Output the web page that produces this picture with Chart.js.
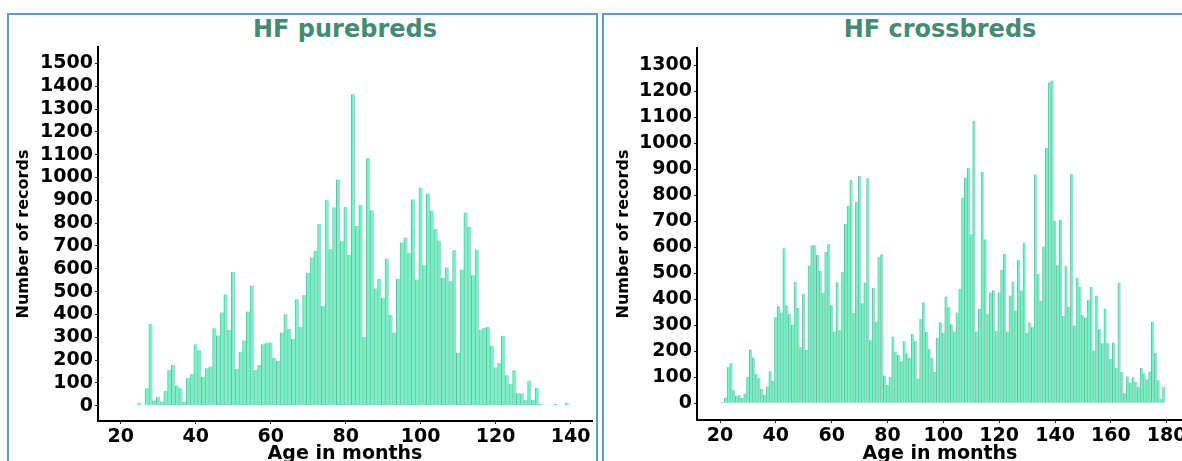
<!DOCTYPE html>
<html>
<head>
<meta charset="utf-8">
<script src="https://cdn.jsdelivr.net/npm/chart.js@4.4.1/dist/chart.umd.min.js"></script>
<style>
  html, body { margin: 0; padding: 0; background: #fff; }
  body { width: 1182px; height: 461px; overflow: hidden; position: relative; }
  .box { position: absolute; top: 13px; height: 470px; border: 2px solid #5b9bd5; box-sizing: border-box; }
  .title { position: absolute; top: 17px; width: 400px; text-align: center;
           font: bold 24px "DejaVu Sans", sans-serif; line-height: 24px; color: #458b74; }
  canvas { position: absolute; top: 0; }
</style>
</head>
<body>
<div class="box" style="left:7px; width:591px;"></div>
<div class="box" style="left:602px; width:600px;"></div>
<div class="title" style="left:145px;">HF purebreds</div>
<div class="title" style="left:740px;">HF crossbreds</div>
<canvas id="pure" width="600" height="480" style="left:0px;"></canvas>
<canvas id="cross" width="600" height="480" style="left:602px;"></canvas>
<script>
// HF purebreds: records per month of age, starting at 25 months
const pureStart = 25;
const pureCounts = [13, 3, 77, 358, 23, 38, 19, 64, 156, 178,
  89, 77, 18, 123, 139, 269, 244, 126, 164, 172,
  339, 308, 409, 489, 333, 587, 161, 235, 286, 413,
  527, 156, 178, 269, 277, 277, 210, 196, 321, 401,
  336, 292, 467, 346, 485, 583, 650, 679, 796, 438,
  902, 686, 870, 991, 721, 872, 661, 1365, 788, 880,
  301, 1085, 857, 514, 556, 472, 645, 397, 321, 556,
  715, 737, 670, 904, 553, 956, 616, 930, 856, 774,
  724, 561, 606, 545, 682, 232, 597, 847, 784, 572,
  685, 333, 342, 346, 264, 168, 187, 307, 134, 96,
  155, 55, 54, 25, 110, 25, 79, 9, 4, 3,
  1, 7, 4, 0, 13];
const pureXTicks = [20, 40, 60, 80, 100, 120, 140];
const pureYTicks = [0, 100, 200, 300, 400, 500, 600, 700, 800, 900, 1000, 1100, 1200, 1300, 1400, 1500];

// HF crossbreds: records per month of age, starting at 21 months
const crossStart = 21;
const crossCounts = [5, 22, 139, 154, 51, 28, 31, 21, 38, 101,
  207, 176, 114, 98, 56, 33, 65, 124, 87, 331,
  375, 350, 597, 377, 344, 302, 467, 367, 216, 422,
  205, 529, 608, 608, 571, 510, 425, 582, 612, 377,
  276, 466, 281, 506, 690, 760, 860, 349, 775, 875,
  385, 465, 866, 243, 445, 314, 562, 574, 107, 71,
  101, 257, 199, 186, 162, 240, 193, 175, 267, 240,
  96, 325, 389, 275, 209, 175, 121, 252, 312, 272,
  411, 370, 304, 276, 350, 441, 791, 869, 905, 651,
  1086, 276, 363, 891, 631, 345, 426, 435, 279, 426,
  513, 575, 276, 415, 468, 357, 552, 434, 619, 272,
  312, 293, 880, 498, 395, 603, 982, 1235, 1242, 702,
  531, 706, 336, 529, 372, 882, 300, 483, 448, 340,
  330, 398, 448, 203, 413, 285, 231, 365, 231, 171,
  234, 136, 465, 121, 39, 103, 80, 100, 82, 64,
  137, 116, 92, 123, 314, 195, 89, 18, 64];
const crossXTicks = [20, 40, 60, 80, 100, 120, 140, 160, 180];
const crossYTicks = [0, 100, 200, 300, 400, 500, 600, 700, 800, 900, 1000, 1100, 1200, 1300];

const tickFont = { family: 'DejaVu Sans', weight: 'bold', size: 19 };

function histogram(id, start, counts, xTicks, yTicks, box) {
  const points = counts.map((c, i) => ({ x: start + i, y: c }));
  return new Chart(document.getElementById(id), {
    type: 'bar',
    data: {
      datasets: [{
        data: points,
        backgroundColor: '#7af2c8',
        borderColor: 'rgba(40,150,110,0.65)',
        borderWidth: { left: 1, right: 0, top: 0, bottom: 0 },
        barPercentage: 1,
        categoryPercentage: 1
      }]
    },
    options: {
      responsive: false,
      animation: false,
      devicePixelRatio: 1,
      layout: { padding: { left: 0, right: box.padRight, top: box.top, bottom: 0 } },
      plugins: { legend: { display: false }, tooltip: { enabled: false } },
      scales: {
        x: {
          type: 'linear',
          offset: false,
          min: box.xMin, max: box.xMax,
          afterFit: s => { s.height = box.xHeight; },
          afterBuildTicks: s => { s.ticks = xTicks.map(v => ({ value: v })); },
          grid: { display: true, drawOnChartArea: false, drawTicks: true, tickLength: 3, color: '#222', offset: false },
          border: { display: true, color: '#000', width: 2 },
          ticks: { font: tickFont, color: '#000', padding: 2, maxRotation: 0, autoSkip: false,
                   callback: v => String(v) },
          title: { display: true, text: 'Age in months', color: '#000',
                   font: { family: 'DejaVu Sans', weight: 'bold', size: 19 }, padding: { top: 0, bottom: 15 } }
        },
        y: {
          min: box.yMin, max: box.yMax,
          afterFit: s => { s.width = box.yWidth; },
          afterBuildTicks: s => { s.ticks = yTicks.map(v => ({ value: v })); },
          grid: { display: true, drawOnChartArea: false, drawTicks: true, tickLength: 3, color: '#222' },
          border: { display: true, color: '#000', width: 2 },
          ticks: { font: tickFont, color: '#000', padding: 2, autoSkip: false,
                   callback: v => String(v) },
          title: { display: true, text: 'Number of records', color: '#000',
                   font: { family: 'DejaVu Sans', weight: 'bold', size: 16 }, padding: { top: box.yTitlePad, bottom: 0 } }
        }
      }
    }
  });
}

histogram('pure', pureStart, pureCounts, pureXTicks, pureYTicks,
  { xMin: 13.95, xMax: 145.68, yMin: -67, yMax: 1572, yWidth: 98, xHeight: 59, top: 47, padRight: 8, yTitlePad: 14 });
histogram('cross', crossStart, crossCounts, crossXTicks, crossYTicks,
  { xMin: 11.76, xMax: 185.84, yMin: -64, yMax: 1367, yWidth: 95, xHeight: 60, top: 48, padRight: 19, yTitlePad: 12 });
</script>
</body>
</html>
